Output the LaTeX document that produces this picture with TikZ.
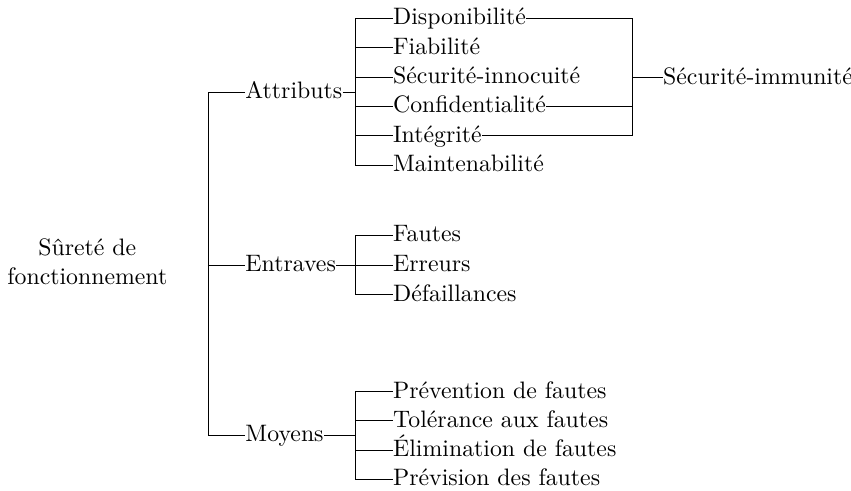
\documentclass[tikz,border=0pt]{standalone}
\usepackage{fontspec}

\begin{document}
\begin{tikzpicture}[
        item/.style={anchor=west, inner xsep=0pt, inner ysep=1pt, text height=1.5ex, text depth=.25ex},
        racine/.style={align=center, inner sep=0pt}
    ]
        \useasboundingbox (0,0) rectangle (12.57,-7.25);

        \node[racine] (surete) at (1.29,-3.87) {Sûreté de\\fonctionnement};

        % Premier niveau
        \node[item] (attributs) at (3.619,-1.362) {Attributs};
        \node[item] (entraves) at (3.619,-3.914) {Entraves};
        \node[item] (moyens) at (3.619,-6.43) {Moyens};

        \coordinate (tronc) at (3.072,0);
        \draw (attributs.west) -| (tronc |- moyens.west) -- (moyens.west);
        \draw (tronc |- entraves.west) -- (entraves.west);

        % Attributs
        \node[item] (dispo) at (5.80,-0.271) {Disponibilité};
        \node[item] (fiab) at (5.80,-0.705) {Fiabilité};
        \node[item] (innoc) at (5.80,-1.138) {Sécurité-innocuité};
        \node[item] (confid) at (5.80,-1.572) {Confidentialité};
        \node[item] (integ) at (5.80,-2.005) {Intégrité};
        \node[item] (maint) at (5.80,-2.438) {Maintenabilité};

        \coordinate (brasA) at (5.254,0);
        \draw (attributs.east) -- (brasA |- attributs.east);
        \draw (dispo.west) -| (brasA |- maint.west) -- (maint.west);
        \draw (brasA |- fiab.west) -- (fiab.west);
        \draw (brasA |- innoc.west) -- (innoc.west);
        \draw (brasA |- confid.west) -- (confid.west);
        \draw (brasA |- integ.west) -- (integ.west);

        % Sécurité-immunité
        \node[item] (immun) at (9.788,-1.147) {Sécurité-immunité};

        \coordinate (brasS) at (9.337,0);
        \draw (dispo.east) -| (brasS |- integ.east) -- (integ.east);
        \draw (confid.east) -- (brasS |- confid.east);
        \draw (brasS |- immun.west) -- (immun.west);

        % Entraves
        \node[item] (fautes) at (5.80,-3.471) {Fautes};
        \node[item] (erreurs) at (5.80,-3.914) {Erreurs};
        \node[item] (defail) at (5.80,-4.357) {Défaillances};

        \coordinate (brasE) at (5.254,0);
        \draw (entraves.east) -- (brasE |- entraves.east);
        \draw (fautes.west) -| (brasE |- defail.west) -- (defail.west);
        \draw (brasE |- erreurs.west) -- (erreurs.west);

        % Moyens
        \node[item] (prevention) at (5.80,-5.785) {Prévention de fautes};
        \node[item] (tolerance) at (5.80,-6.218) {Tolérance aux fautes};
        \node[item] (elimination) at (5.80,-6.647) {Élimination de fautes};
        \node[item] (prevision) at (5.80,-7.080) {Prévision des fautes};

        \coordinate (brasM) at (5.254,0);
        \draw (moyens.east) -- (brasM |- moyens.east);
        \draw (prevention.west) -| (brasM |- prevision.west) -- (prevision.west);
        \draw (brasM |- tolerance.west) -- (tolerance.west);
        \draw (brasM |- elimination.west) -- (elimination.west);
    \end{tikzpicture}
\end{document}
